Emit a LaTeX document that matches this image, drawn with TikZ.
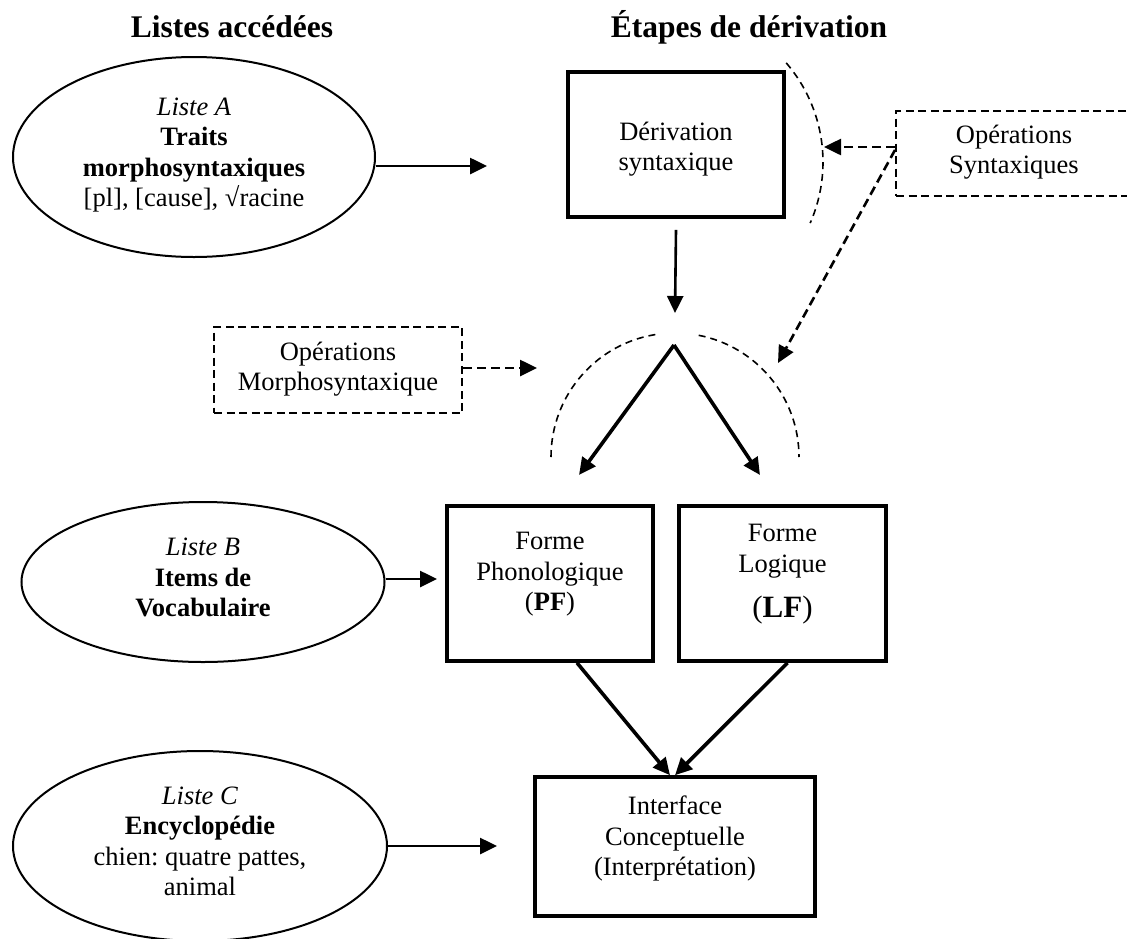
\documentclass[tikz,border=0pt]{standalone}
\usepackage{fontspec}
\setmainfont{Liberation Serif}
\usetikzlibrary{arrows.meta,shapes.geometric}
\frenchspacing
\begin{document}
\begin{tikzpicture}[x=1pt,y=-1pt,
  body/.style={font=\fontsize{26.5}{30.5}\selectfont, align=center, inner sep=0pt,
    execute at begin node=\strut, execute at end node=\strut},
  heading/.style={font=\fontsize{31.5}{36}\selectfont\bfseries, inner sep=0pt, anchor=base},
  liste/.style={ellipse, draw, line width=2pt, inner sep=0pt, body},
  stagebox/.style={rectangle, draw, line width=3.6pt, inner sep=0pt},
  opbox/.style={rectangle, draw, line width=2pt, dash pattern=on 8pt off 4.5pt, inner sep=0pt},
  tip/.style={-{Triangle[length=17pt,width=16pt]}},
  arr/.style={tip, line width=2.6pt},
  bigarr/.style={tip, line width=3.6pt},
  darr/.style={tip, line width=2.6pt, dash pattern=on 9pt off 5pt},
  arcline/.style={line width=1.6pt, dash pattern=on 7pt off 5pt}
]
\useasboundingbox (0,0) rectangle (1127,938);

% column headings
\node[heading] (h1) at (232,37) {Listes accédées};
\node[heading] (h2) at (749,37) {Étapes de dérivation};

% accessed lists
\node[liste, minimum width=362, minimum height=200] (la) at (194,157)
  {\textit{Liste A}\\\textbf{Traits}\\\textbf{morphosyntaxiques}\\{[pl]}, {[cause]}, √racine};
\node[liste, minimum width=363, minimum height=160] (lb) at (203,582)
  {\textit{Liste B}\\\textbf{Items de}\\\textbf{Vocabulaire}};
\node[liste, minimum width=374, minimum height=190] (lc) at (200,846)
  {\textit{Liste C}\\\textbf{Encyclopédie}\\chien: quatre pattes,\\animal};

% derivation stages
\node[stagebox, minimum width=216, minimum height=145] (der) at (676,144.5) {};
\node[body] (dert) at (676,151) {Dérivation\\syntaxique};

\node[stagebox, minimum width=206, minimum height=155] (pf) at (550,583.5) {};
\node[body] (pft) at (550,576) {Forme\\Phonologique\\(\textbf{PF})};

\node[stagebox, minimum width=207, minimum height=155] (lf) at (782.5,583.5) {};
\node[body] (lft) at (782.5,553) {Forme\\Logique};
\node[font=\fontsize{31}{36}\selectfont, inner sep=0pt, anchor=base] (lfl) at (782.5,617) {(\textbf{LF})};

\node[stagebox, minimum width=280, minimum height=139] (ic) at (675,846.5) {};
\node[body] (ict) at (675,840.4) {Interface\\Conceptuelle\\(Interprétation)};

% operations
\node[opbox, minimum width=235, minimum height=85] (ops) at (1013.5,153.5) {};
\node[body] (opst) at (1014,154) {Opérations\\Syntaxiques};
\node[opbox, minimum width=248, minimum height=86] (mor) at (338,370) {};
\node[body] (mort) at (338,371) {Opérations\\Morphosyntaxique};

% free arrow ends
\coordinate (aend) at (487,166);
\coordinate (bend) at (437,579);
\coordinate (cend) at (497,846);
\coordinate (vtip) at (675,313);
\coordinate (apex) at (674,345);
\coordinate (pftip) at (579,475);
\coordinate (lftip) at (760,475);
\coordinate (arctip) at (824,147);
\coordinate (diagtip) at (778,363);
\coordinate (mtip) at (537,368);

% solid arrows
\draw[arr] (la.east |- aend) -- (aend);
\draw[arr] (lb.east |- bend) -- (bend);
\draw[arr] (lc.east) -- (cend);
\draw[arr] ([yshift=-11pt]der.south) -- (vtip);
\draw[bigarr] (apex) -- (pftip);
\draw[bigarr] (apex) -- (lftip);
\draw[bigarr] ([xshift=27pt]pf.south) -- ([xshift=-5pt]ic.north);
\draw[bigarr] ([xshift=5pt]lf.south) -- (ic.north);

% dashed arrows from the operations
\draw[darr] (ops.west |- arctip) -- (arctip);
\draw[darr] ([yshift=3.5pt]ops.west) -- (diagtip);
\draw[darr] (mor.east |- mtip) -- (mtip);

% dashed arcs marking where the operations apply
\draw[arcline] (671,162) ++(-40.7:152) arc[start angle=-40.7, end angle=23.7, radius=152];
\draw[arcline] (675,457) ++(180:124) arc[start angle=180, end angle=263, radius=124];
\draw[arcline] (675,457) ++(281:124) arc[start angle=281, end angle=360, radius=124];
\end{tikzpicture}
\end{document}
